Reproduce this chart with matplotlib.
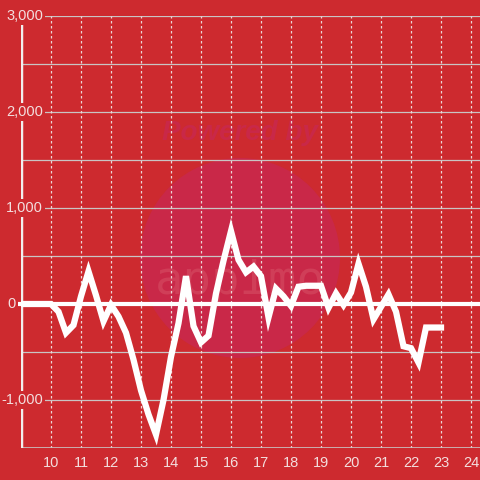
import matplotlib
matplotlib.use('Agg')
import matplotlib.pyplot as plt
from matplotlib.patches import Circle
import numpy as np

# ============================================================
# DATA
# ============================================================
jam = np.arange(9.0, 23.01, 0.25)
nilai = [
    0, 0, 0, 0, 0, -80, -300, -220, 80, 340, 90, -180,
    -10, -130, -300, -580, -900, -1150, -1360, -1000, -550, -200, 290, -230,
    -400, -330, 110, 450, 760, 460, 330, 390, 290, -140, 160, 80,
    -20, 180, 190, 190, 190, -40, 110, -10, 120, 420, 180, -160,
    -30, 100, -80, -440, -460, -610, -245, -245, -245,
]
x_ticks = list(range(10, 25))
y_ticks = [-1000, 0, 1000, 2000, 3000]
y_labels = ["-1,000", "0", "1,000", "2,000", "3,000"]

BG = '#cd2a2f'
TXT = '#f3dede'

fig = plt.figure(figsize=(4.8, 4.8), dpi=100)
fig.patch.set_facecolor(BG)

# watermark
fig.patches.append(Circle((0.5, 1 - 258 / 480), 100 / 480, transform=fig.transFigure,
                          facecolor='#c92848', edgecolor='none', zorder=-2))
fig.text(0.5, 1 - 133 / 480, 'Powered by', ha='center', va='center', fontsize=20,
         fontweight='bold', style='italic', color='#c92848', family='Liberation Sans', zorder=-1)
fig.text(0.5, 1 - 282 / 480, 'appimo', ha='center', va='center', fontsize=34,
         color='#d03e58', family='DejaVu Sans Mono', zorder=-1)

ax = fig.add_axes([21 / 480, 32 / 480, 459 / 480, 432 / 480])
ax.set_facecolor('none')
ax.set_xlim(9, 9 + 459 / 30)
ax.set_ylim(-1500, 3000)
for s in ax.spines.values():
    s.set_visible(False)

# grid
for y in np.arange(-1000, 3001, 500):
    ax.axhline(y, color='#c9c4c4', lw=0.9, zorder=1)
for x in x_ticks:
    ax.axvline(x, color='#ecd6d6', lw=0.9, ls=(0, (2, 2)), zorder=1)
ax.axhline(-1500, color='#c9c4c4', lw=1.2, zorder=1)
ax.axvline(9, color='#f2eeee', lw=2.5, zorder=2)
ax.plot([9 - 4 / 30, 24.3], [0, 0], color='white', lw=3, zorder=2, clip_on=False)

ax.plot(jam, nilai, color='white', lw=4.5, solid_joinstyle='miter', zorder=4)

# sumbu
ax.set_xticks(x_ticks)
ax.set_xticklabels([str(t) for t in x_ticks])
ax.set_yticks([])
ax.tick_params(axis='x', length=0, pad=6, labelsize=10.5, labelcolor=TXT)
for lbl in ax.get_xticklabels():
    lbl.set_family('Liberation Sans')

tr = ax.get_yaxis_transform()
for v, s in zip(y_ticks, y_labels):
    xp = (16 - 21) / 459 if v == 0 else (43 - 21) / 459
    ax.text(xp, v, s, transform=tr, ha='right', va='center', fontsize=10.5,
            color=TXT, family='Liberation Sans', zorder=5, clip_on=False,
            bbox=dict(facecolor=BG, edgecolor='none', pad=1.5))

plt.savefig('out.png', dpi=100, facecolor=BG)
